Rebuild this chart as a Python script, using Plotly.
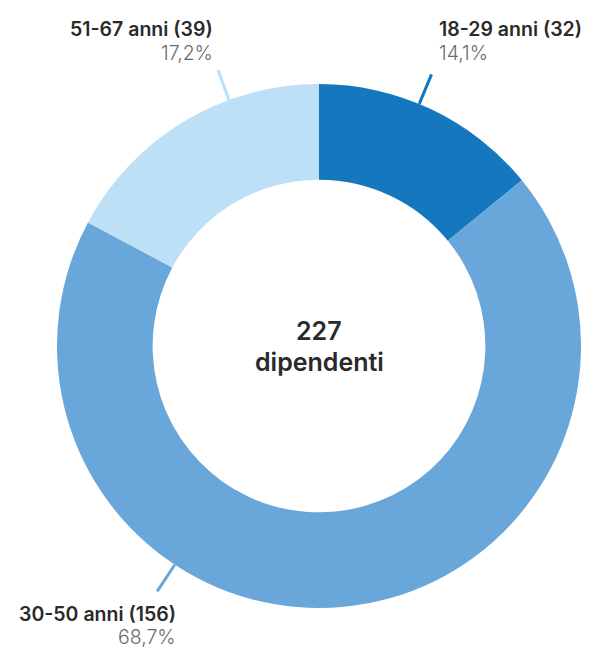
import math
import plotly.graph_objects as go

# Age bands of employees
age_bands = ["18-29 anni", "30-50 anni", "51-67 anni"]
headcount = [32, 156, 39]
share_labels = ["14,1%", "68,7%", "17,2%"]
total_label = "227"
total_caption = "dipendenti"

colors = ["#1577BE", "#69A7DB", "#BDE0F6"]

W, H = 589, 648
CX, CY, R = 319, 346, 262  # donut centre and outer radius in pixels
HOLE = 0.635
FONT = "Inter"

# leader-line direction (degrees clockwise from 12 o'clock) and label anchor per band
callouts = [
    dict(angle=22.5, x=437, y1=29, y2=53, align="left"),
    dict(angle=213.4, x=178, y1=614, y2=637, align="right"),
    dict(angle=-20.1, x=215, y1=29, y2=53, align="right"),
]


def px(x, y):
    return x / W, 1 - y / H


fig = go.Figure(
    go.Pie(
        labels=age_bands,
        values=headcount,
        hole=HOLE,
        sort=False,
        direction="clockwise",
        rotation=0,
        marker=dict(colors=colors, line=dict(width=0)),
        textinfo="none",
        hoverinfo="label+value+percent",
        domain=dict(x=[(CX - R) / W, (CX + R) / W],
                    y=[(H - CY - R) / H, (H - CY + R) / H]),
        showlegend=False,
    )
)

shapes = []
annotations = []
for band, n, share, col, c in zip(age_bands, headcount, share_labels, colors, callouts):
    a = math.radians(c["angle"])
    x0, y0 = px(CX + R * math.sin(a), CY - R * math.cos(a))
    x1, y1 = px(CX + (R + 32) * math.sin(a), CY - (R + 32) * math.cos(a))
    shapes.append(dict(type="line", xref="paper", yref="paper",
                       x0=x0, y0=y0, x1=x1, y1=y1,
                       line=dict(color=col, width=3)))
    xa = "left" if c["align"] == "left" else "right"
    tx, ty = px(c["x"], c["y1"])
    annotations.append(dict(x=tx, y=ty, xref="paper", yref="paper",
                            text=f"{band} ({n})", showarrow=False,
                            xanchor=xa, yanchor="middle",
                            font=dict(family=FONT, size=19.5, color="#2a2a2a", weight=600)))
    tx, ty = px(c["x"], c["y2"])
    annotations.append(dict(x=tx, y=ty, xref="paper", yref="paper",
                            text=share, showarrow=False,
                            xanchor=xa, yanchor="middle",
                            font=dict(family=FONT, size=19.5, color="#6b6b6b", weight=300)))

cx, cy = px(CX, 331)
annotations.append(dict(x=cx, y=cy, xref="paper", yref="paper", text=total_label,
                        showarrow=False, xanchor="center", yanchor="middle",
                        font=dict(family=FONT, size=25, color="#2a2a2a", weight=600)))
cx, cy = px(CX, 362)
annotations.append(dict(x=cx, y=cy, xref="paper", yref="paper", text=total_caption,
                        showarrow=False, xanchor="center", yanchor="middle",
                        font=dict(family=FONT, size=25, color="#2a2a2a", weight=600)))

fig.update_layout(
    width=W, height=H,
    margin=dict(l=0, r=0, t=0, b=0),
    paper_bgcolor="white", plot_bgcolor="white",
    shapes=shapes, annotations=annotations,
)

fig.write_html("out.html")
